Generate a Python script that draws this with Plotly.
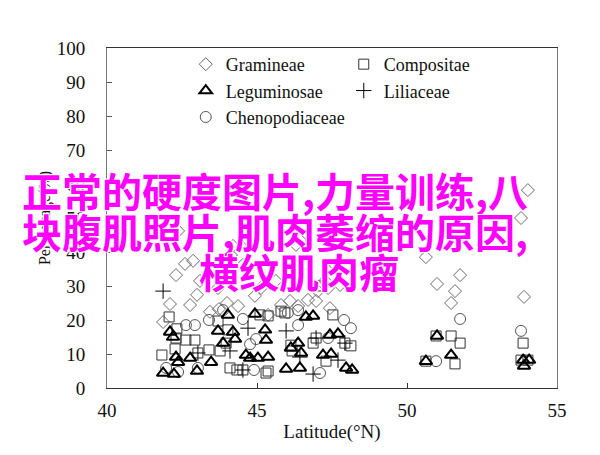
import plotly.graph_objects as go

# ---- data (latitude °N, percentage) ----
gram_lat = [43.37, 44.13, 43.97, 42.6, 42.87, 42.3, 43.1, 42.1, 42.77, 43.0, 41.87, 43.43, 43.73, 44.0,
            44.37, 44.93, 45.37, 44.53, 43.7, 45.13, 45.63, 45.8, 46.1, 46.37, 46.7, 46.97, 47.27, 47.37,
            47.03, 47.6, 47.43, 47.77, 46.43, 50.63, 51.0, 51.77, 51.6, 51.47, 53.9, 54.03, 53.8, 42.37,
            44.7, 44.2, 46.3]
gram_val = [60.3, 39.1, 38.2, 36.5, 37.4, 33.2, 31.5, 24.7, 24.4, 27.4, 19.4, 22.4, 23.2, 25.0,
            24.1, 27.1, 21.5, 36.2, 29.4, 29.4, 31.5, 24.4, 25.6, 24.1, 25.9, 25.6, 31.5, 29.4,
            28.5, 36.2, 23.5, 30.3, 43.5, 38.5, 30.6, 33.2, 28.5, 25.0, 26.8, 58.2, 50.0, 46.2,
            43.5, 41.8, 42.1]

comp_lat = [42.07, 42.33, 42.3, 42.63, 42.93, 41.83, 42.27, 43.03, 43.4, 43.77, 43.97, 43.7, 44.03,
            45.1, 45.37, 45.8, 45.93, 47.13, 47.53, 46.97, 47.93, 48.13, 46.13, 46.17, 46.87, 45.37,
            47.3, 44.1, 44.33, 44.53, 45.3, 50.97, 51.47, 51.77, 50.63, 51.6, 53.87, 53.8, 54.03]
comp_val = [20.9, 17.4, 14.7, 14.1, 14.1, 9.7, 11.5, 10.3, 11.2, 10.9, 13.2, 19.7, 17.1,
            21.5, 21.2, 22.6, 22.1, 30.0, 21.5, 14.7, 13.2, 12.4, 12.6, 10.9, 13.2, 5.0,
            7.9, 5.9, 5.3, 5.3, 4.4, 15.3, 15.3, 13.2, 7.9, 7.1, 13.2, 8.2, 8.2]

legu_lat = [42.1, 42.2, 43.7, 43.87, 44.93, 45.27, 45.3, 44.2, 44.27, 42.3, 42.37, 42.77, 43.47,
            41.87, 42.23, 43.0, 44.63, 44.77, 45.03, 45.37, 44.03, 46.37, 46.47, 46.63, 46.87,
            47.43, 47.7, 47.2, 47.47, 46.13, 46.43, 45.97, 47.97, 48.17, 51.0, 50.63, 51.47,
            53.87, 54.07, 53.9]
legu_val = [16.5, 15.0, 16.8, 13.2, 21.8, 17.1, 14.1, 16.5, 14.4, 9.1, 7.6, 8.8, 7.6,
            4.4, 4.1, 5.0, 9.7, 8.8, 8.8, 9.1, 21.5, 13.2, 10.3, 20.9, 21.2,
            15.6, 15.9, 9.7, 10.0, 11.8, 5.9, 5.6, 5.9, 5.3, 15.3, 7.9, 9.7,
            8.2, 8.2, 6.5]

lili_lat = [41.87, 44.1, 45.97, 46.43, 46.87, 47.7, 44.7, 43.03, 44.53, 46.97, 47.93]
lili_val = [28.5, 10.9, 16.8, 9.1, 4.1, 8.2, 17.6, 10.3, 5.3, 14.7, 13.2]

chen_lat = [42.63, 42.93, 43.4, 44.53, 43.87, 41.97, 42.37, 43.03, 44.77, 44.97, 46.03, 46.37,
            46.37, 47.37, 47.9, 48.13, 47.1, 44.9, 51.77, 50.97, 53.8]
chen_val = [18.5, 18.5, 20.0, 20.3, 22.9, 5.9, 4.7, 5.9, 12.9, 14.4, 22.1, 18.5,
            22.9, 14.7, 20.0, 17.6, 4.4, 5.3, 20.3, 7.9, 16.8]

overlay_lines = ["正常的硬度图片,力量训练,八", "块腹肌照片,肌肉萎缩的原因,", "横纹肌肉瘤"]

SERIF = "Liberation Serif"

fig = go.Figure()

def add(name, lat, val, symbol, color, size, lw, rank):
    fig.add_trace(go.Scatter(
        x=lat, y=val, mode="markers", name=name, legendrank=rank,
        marker=dict(symbol=symbol, size=size, color=color,
                    line=dict(color=color, width=lw)),
    ))

add("Gramineae", gram_lat, gram_val, "diamond-open", "#6a6a6a", 10, 1, 1)
add("Compositae", comp_lat, comp_val, "square-open", "#333333", 10, 1, 2)
add("Chenopodiaceae", chen_lat, chen_val, "circle-open", "#555555", 11, 1, 5)
add("Leguminosae", legu_lat, legu_val, "triangle-up-open", "#000000", 11, 2, 3)
add("Liliaceae", lili_lat, lili_val, "cross-thin-open", "#000000", 11, 1, 4)

shadow = "1px 1px 0 #fff, -1px -1px 0 #fff, 1px -1px 0 #fff, -1px 1px 0 #fff"
positions = [(12, 182), (12, 223), (189, 263)]
for txt, (px, py) in zip(overlay_lines, positions):
    fig.add_annotation(
        text=txt, xref="paper", yref="paper",
        x=(px - 99) / 450, y=(380 - py) / 340,
        xanchor="left", yanchor="middle", showarrow=False,
        font=dict(family="Noto Sans CJK SC", size=40, color="#ff00ff",
                  weight="bold", shadow=shadow),
    )

fig.update_layout(
    width=600, height=455,
    margin=dict(l=99, r=51, t=40, b=75),
    paper_bgcolor="white", plot_bgcolor="white",
    font=dict(family=SERIF, size=19, color="#111"),
    showlegend=True,
    legend=dict(orientation="h", x=0.175, y=1.006, xanchor="left", yanchor="top",
                entrywidth=113, bgcolor="rgba(0,0,0,0)",
                font=dict(family=SERIF, size=18, color="#111"),
                itemsizing="trace"),
    xaxis=dict(range=[40, 55], dtick=5, tick0=40, ticks="inside", ticklen=5,
               tickcolor="#333", showline=True, linecolor="#333", linewidth=1,
               mirror=True, showgrid=False, zeroline=False,
               tickfont=dict(family=SERIF, size=19),
               title=dict(text="Latitude(°N)", standoff=4, font=dict(family=SERIF, size=19)),
               ticklabelstandoff=5),
    yaxis=dict(range=[0, 100], dtick=10, tick0=0, ticks="inside", ticklen=5,
               tickcolor="#555", showline=True, linecolor="#777", linewidth=1,
               mirror=True, showgrid=False, zeroline=False,
               tickfont=dict(family=SERIF, size=19),
               title=dict(text="Percentage(%)", standoff=2, font=dict(family=SERIF, size=16)),
               ticklabelstandoff=17),
)

fig.write_html("out.html")
